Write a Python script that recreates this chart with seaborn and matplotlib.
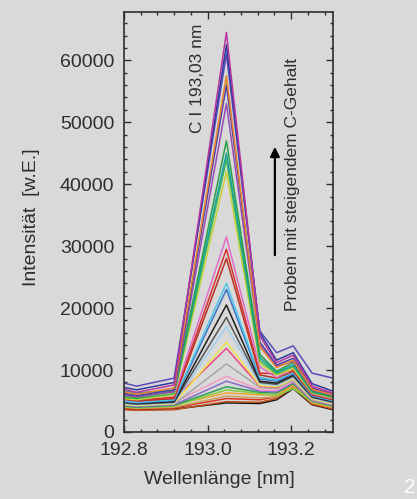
import numpy as np
import pandas as pd
import matplotlib
matplotlib.use("Agg")
import matplotlib.pyplot as plt
from matplotlib.ticker import MultipleLocator
import seaborn as sns

# --- data ---
wavelength = [192.80, 192.83, 192.92, 193.045, 193.125, 193.165, 193.205, 193.25, 193.30]

# strong C line (high carbon samples)
spectra_high = [
    [6900, 6400, 7600, 64500, 15500, 11200, 12400, 7400, 6300],
    [7200, 6800, 8000, 62500, 16000, 11600, 12800, 7800, 6600],
    [7900, 7400, 8700, 61000, 16300, 12800, 13900, 9500, 8700],
    [6500, 6100, 7100, 57500, 13800, 10400, 11600, 6900, 6000],
    [6200, 5900, 6800, 56000, 14500, 10800, 11900, 7100, 6100],
    [6000, 5700, 6500, 53000, 14000, 10600, 11400, 6800, 5900],
    [5900, 5600, 6600, 47000, 12500, 9800, 11200, 6600, 5700],
    [6600, 6300, 6700, 45000, 12000, 9600, 10800, 6500, 5800],
    [5600, 5400, 6200, 44000, 11500, 9400, 10600, 6400, 5600],
    [5400, 5200, 6000, 42000, 11000, 9200, 10200, 6300, 5500],
]
colors_high = ["#b8359f", "#2e3a9c", "#5a4bb8", "#e8832a", "#4b3fa8",
               "#9a4ab0", "#27a04a", "#17a3a0", "#3db54a", "#c6d23c"]

spectra_mid = [
    [5800, 5500, 5900, 31500, 10500, 8800, 10300, 6200, 5400],
    [5500, 5200, 5600, 29500, 9500, 9400, 10000, 6100, 5300],
    [5300, 5000, 5400, 28000, 9200, 8700, 9800, 6000, 5200],
    [5000, 4800, 5200, 24000, 8800, 8400, 9600, 5900, 5100],
    [4900, 4700, 5100, 23000, 8600, 8200, 9400, 5800, 5000],
    [4800, 4600, 4900, 20500, 8200, 7900, 9200, 5700, 4900],
    [4700, 4500, 4800, 18500, 8000, 7700, 9000, 5600, 4800],
    [4600, 4400, 4700, 17000, 7800, 7500, 8800, 5500, 4700],
    [4500, 4300, 4600, 14500, 7500, 7300, 8600, 5400, 4600],
]
colors_mid = ["#e06cc4", "#d62f2f", "#b83224", "#4fc6ec", "#3a74c4",
              "#1e1e1e", "#555555", "#9fd0ee", "#f2e34a"]

spectra_low = [
    [5200, 5000, 5300, 13500, 7400, 7200, 8800, 5600, 4800],
    [4400, 4200, 4500, 11000, 7200, 7000, 8400, 5300, 4500],
    [4600, 4400, 4800, 9000, 6800, 6700, 8200, 5200, 4400],
    [4300, 4100, 4400, 8200, 6600, 6500, 8000, 5100, 4300],
    [4200, 4000, 4300, 7300, 6400, 6300, 7800, 5000, 4200],
    [4100, 3900, 4200, 6800, 6200, 5900, 7000, 4900, 4100],
    [4500, 4300, 4400, 6300, 6000, 6000, 7600, 4800, 4000],
    [4000, 3800, 4000, 5800, 5500, 5700, 7400, 4700, 3900],
    [3900, 3700, 3900, 5400, 5200, 5700, 7800, 4600, 3800],
    [3600, 3500, 3600, 4900, 4800, 5400, 7200, 4500, 3700],
    [3700, 3600, 3700, 4700, 4600, 5200, 7000, 4400, 3600],
]
colors_low = ["#f0458a", "#a6a6a6", "#f59ac8", "#8a6ac8", "#2f9e56", "#86d040",
              "#f2a331", "#c9a25e", "#e0301e", "#c0521a", "#101010"]

# --- long table for seaborn ---
spectra = spectra_low[::-1] + spectra_mid[::-1] + spectra_high[::-1]
palette = colors_low[::-1] + colors_mid[::-1] + colors_high[::-1]
rows = []
for k, spec in enumerate(spectra):
    for wl, val in zip(wavelength, spec):
        rows.append({"probe": k, "wl": wl, "intensity": val})
df = pd.DataFrame(rows)

# --- style ---
sns.set_theme(style="ticks")
plt.rcParams["font.family"] = ["Liberation Sans", "DejaVu Sans"]
bg = "#d9d9d9"
ink = "#2e2e2e"

fig = plt.figure(figsize=(4.17, 4.99), dpi=100, facecolor=bg)
ax = fig.add_axes([124 / 417, 1 - 432 / 499, 209 / 417, 420 / 499])
ax.set_facecolor(bg)

sns.lineplot(data=df, x="wl", y="intensity", hue="probe", palette=palette,
             legend=False, errorbar=None, linewidth=1.1, ax=ax)

ax.set_xlim(192.8, 193.3)
ax.set_ylim(0, 67800)
ax.xaxis.set_major_locator(MultipleLocator(0.2))
ax.xaxis.set_minor_locator(MultipleLocator(0.04))
ax.yaxis.set_major_locator(MultipleLocator(10000))
ax.yaxis.set_minor_locator(MultipleLocator(2000))
ax.xaxis.set_major_formatter(plt.FuncFormatter(lambda v, p: f"{v:.1f}"))

ax.tick_params(which="both", direction="in", top=True, right=True,
               color=ink, width=1.0, labelsize=14, labelcolor=ink)
ax.tick_params(which="major", length=5)
ax.tick_params(which="minor", length=2.5)
ax.tick_params(axis="y", pad=7)
ax.tick_params(axis="x", pad=7.5)
for s in ax.spines.values():
    s.set_color(ink)
    s.set_linewidth(1.2)

ax.set_xlabel("")
ax.set_ylabel("")
fig.text(219 / 417, 1 - 479 / 499, "Wellenlänge [nm]", ha="center", va="center",
         fontsize=14, color=ink)
fig.text(32 / 417, 1 - 217 / 499, "Intensität  [w.E.]", ha="center", va="center",
         rotation=90, fontsize=14, color=ink)

# annotations
ax.text(0.354, 0.843, "C I 193,03 nm", transform=ax.transAxes, rotation=90,
        ha="center", va="center", fontsize=12.5, color=ink)
ax.text(0.804, 0.59, "Proben mit steigendem C-Gehalt", transform=ax.transAxes,
        rotation=90, ha="center", va="center", fontsize=12.5, color=ink)
ax.annotate("", xy=(0.722, 0.679), xytext=(0.722, 0.421),
            xycoords="axes fraction", textcoords="axes fraction",
            arrowprops=dict(arrowstyle="-|>", color="black", lw=1.6,
                            mutation_scale=14, shrinkA=0, shrinkB=0))

# slide number (cut by the slide edge, as on the original)
fig.text(404 / 417, 1 - 478 / 499, "2", ha="left", va="top", fontsize=15,
         color="white")

fig.savefig("out.png", dpi=100, facecolor=bg)
